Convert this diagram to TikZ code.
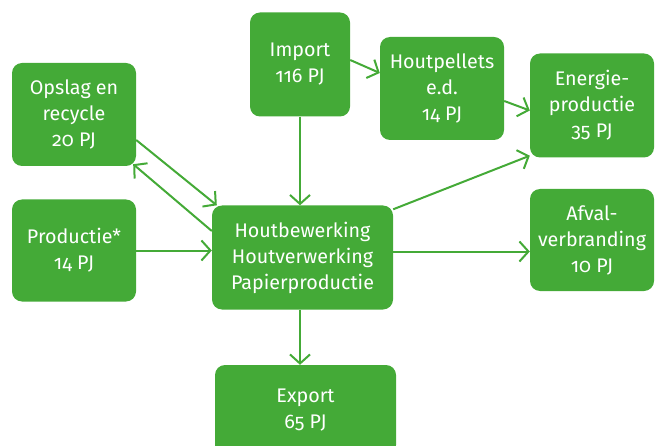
\documentclass[tikz,border=0pt]{standalone}
\usepackage{fontspec}
\setmainfont{Fira Sans}[RawFeature={+onum}]
\usepackage{tikz}
\usetikzlibrary{arrows.meta}
\definecolor{RO_Green}{HTML}{44AA37}

\begin{document}
\begin{tikzpicture}[
  x=1pt, y=-1pt,
  every node/.style={font=\fontsize{19.7}{26}\selectfont},
  blok/.style={fill=RO_Green, text=white, rounded corners=10pt,
    align=center, inner sep=0pt},
  arr/.style={-{Straight Barb[length=9pt, width=20pt]}, line width=2pt, RO_Green}
]
  \clip (0,0) rectangle (655,446);

  % Left side: inputs
  \node[blok, minimum width=124pt, minimum height=103pt] (opslag) at (74,114.5) {Opslag en\\recycle\\20 PJ};
  \node[blok, minimum width=124pt, minimum height=102pt] (prod) at (74,250.5) {Productie*\\14 PJ};

  % Top: import and pellets
  \node[blok, minimum width=100pt, minimum height=104pt] (import) at (300,64.5) {Import\\116 PJ};
  \node[blok, minimum width=124pt, minimum height=103pt] (pellets) at (442,88.5) {Houtpellets\\e.d.\\14 PJ};

  % Right side: outputs
  \node[blok, minimum width=124pt, minimum height=104pt] (energie) at (592,105.5) {Energie-\\productie\\35 PJ};
  \node[blok, minimum width=124pt, minimum height=102pt] (afval) at (592,240) {Afval-\\verbranding\\10 PJ};

  % Centre and export
  \node[blok, minimum width=181pt, minimum height=104pt] (hout) at (302.5,257.5) {Houtbewerking\\Houtverwerking\\Papierproductie};
  \node[blok, minimum width=181pt, minimum height=90pt] (export) at (305.5,410) {Export\\65 PJ};

  % Flows into the centre
  \draw[arr] (import.south) -- (import.south |- hout.north);
  \draw[arr] (prod.east) -- (prod.east -| hout.west);
  \draw[arr] ([yshift=-25.5pt]opslag.east) -- ([xshift=5pt]hout.north west);
  \draw[arr] ([yshift=26.5pt]hout.west) -- ([xshift=-3pt, yshift=2pt]opslag.south east);

  % Import to pellets to energy
  \draw[arr] ([yshift=4.5pt]import.east) -- ([yshift=15.5pt]pellets.west);
  \draw[arr] ([yshift=-12.5pt]pellets.east) -- ([yshift=-5pt]energie.west);

  % Flows out of the centre
  \draw[arr] ([yshift=-4pt]hout.north east) -- ([yshift=2pt]energie.south west);
  \draw[arr] ([yshift=6pt]hout.east) -- ([yshift=6pt]hout.east -| afval.west);
  \draw[arr] (import.south |- hout.south) -- (import.south |- export.north);
\end{tikzpicture}
\end{document}
